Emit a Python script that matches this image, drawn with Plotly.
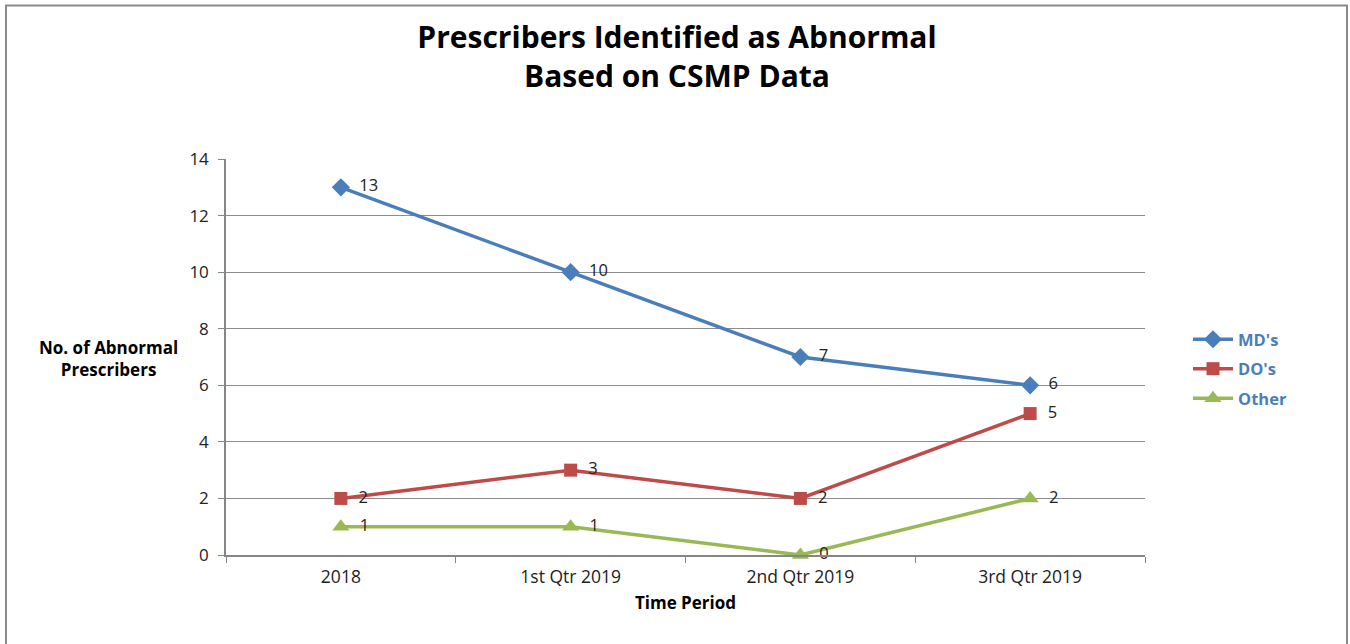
import plotly.graph_objects as go

categories = ["2018", "1st Qtr 2019", "2nd Qtr 2019", "3rd Qtr 2019"]
md_values = [13, 10, 7, 6]
do_values = [2, 3, 2, 5]
other_values = [1, 1, 0, 2]
y_ticks = [0, 2, 4, 6, 8, 10, 12, 14]

FONT = "Open Sans"
BLUE = "#4A7EBB"
RED = "#BE4B48"
GREEN = "#98B954"

series = [
    ("MD's", md_values, BLUE, "diamond", 14),
    ("DO's", do_values, RED, "square", 13),
    ("Other", other_values, GREEN, "triangle-up", 15),
]

fig = go.Figure()
for i, (name, vals, color, sym, size) in enumerate(series):
    fig.add_trace(go.Scatter(
        x=categories, y=vals, name=name, mode="lines+markers+text",
        line=dict(color=color, width=3.5),
        marker=dict(symbol=sym, size=size, color=color),
        text=[f"  {v}" for v in vals], textposition="middle right",
        textfont=dict(family=FONT, size=16.5, color="#222222"),
        legendgroup=f"g{i}", cliponaxis=False,
    ))

L, R, T, B = 226, 205, 159, 89
W, H = 1350, 644
pw, ph = W - L - R, H - T - B

def px(x):
    return (x - L) / pw

def py(y):
    return (H - B - y) / ph

fig.update_layout(
    width=W, height=H,
    margin=dict(l=L, r=R, t=T, b=B, autoexpand=False),
    paper_bgcolor="white", plot_bgcolor="white",
    font=dict(family=FONT, size=16, color="#222222"),
    title=dict(
        text="<b>Prescribers Identified as Abnormal<br>Based on CSMP Data</b>",
        x=px(677), xref="paper", xanchor="center",
        y=1 - 48 / H, yanchor="middle",
        font=dict(family=FONT, size=30, color="black"),
    ),
    xaxis=dict(
        type="category", range=[-0.5, 3.5],
        showline=True, linecolor="#868686", linewidth=1.5,
        ticks="outside", tickson="boundaries", ticklen=6, tickcolor="#868686",
        showgrid=False, tickfont=dict(family=FONT, size=17.5, color="#222222"),
        ticklabelstandoff=5,
        title=dict(text="<b>Time Period</b>", font=dict(family=FONT, size=17, color="black"), standoff=10),
    ),
    yaxis=dict(
        range=[0, 14], tickvals=y_ticks,
        showline=True, linecolor="#868686", linewidth=1.5,
        ticks="outside", ticklen=6, tickcolor="#868686",
        showgrid=True, gridcolor="#8C8C8C", gridwidth=1,
        zeroline=False, tickfont=dict(family=FONT, size=17, color="#222222"),
        ticklabelstandoff=6,
    ),
    legend=dict(
        x=px(1188), y=py(322), xanchor="left", yanchor="top",
        font=dict(family=FONT, size=16.5, color=BLUE, weight="bold"),
        tracegroupgap=5, traceorder="grouped", itemwidth=40,
        bgcolor="rgba(0,0,0,0)",
    ),
    showlegend=True,
)

fig.add_annotation(
    text="<b>No. of Abnormal<br>Prescribers</b>", xref="paper", yref="paper",
    x=px(108), y=py(358), xanchor="center", yanchor="middle", showarrow=False,
    font=dict(family=FONT, size=17, color="black"),
)

fig.add_shape(
    type="rect", xref="paper", yref="paper",
    x0=px(6), x1=px(1347), y0=py(660), y1=py(5.5),
    line=dict(color="#8A8A8A", width=2), fillcolor="rgba(0,0,0,0)", layer="below",
)

fig.write_html(
    "out.html",
    config={"displayModeBar": False},
    post_script="document.body.style.margin='0px';document.body.style.overflow='hidden';",
)
